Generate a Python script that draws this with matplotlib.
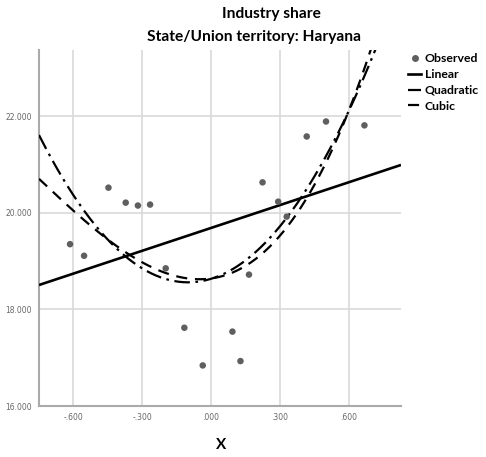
import numpy as np
import matplotlib
matplotlib.use("Agg")
import matplotlib.pyplot as plt
from matplotlib.lines import Line2D

x_obs = [-0.613, -0.552, -0.446, -0.371, -0.318, -0.265, -0.197, -0.116, -0.036,
         0.093, 0.128, 0.165, 0.224, 0.292, 0.329, 0.416, 0.500, 0.667]
y_obs = [19.35, 19.11, 20.52, 20.21, 20.15, 20.17, 18.85, 17.62, 16.84,
         17.54, 16.93, 18.72, 20.63, 20.23, 19.92, 21.58, 21.89, 21.81]

# Fitted model coefficients (highest power first)
linear_coef = [1.579, 19.686]
quadratic_coef = [7.26, 1.452, 18.633]
cubic_coef = [3.0, 6.8, 0.65, 18.64]

x_ticks = [-0.6, -0.3, 0.0, 0.3, 0.6]
x_ticklabels = ["-.600", "-.300", ".000", ".300", ".600"]
y_ticks = [16, 18, 20, 22]
y_ticklabels = ["16.000", "18.000", "20.000", "22.000"]

W, H = 486, 457
fig = plt.figure(figsize=(W / 100, H / 100), dpi=100)
ax = fig.add_axes([39 / W, 1 - 406 / H, (401 - 39) / W, (406 - 50) / H])

xmin, xmax = -0.748, 0.826
ymin, ymax = 16.0, 23.37
xx = np.linspace(xmin, xmax, 400)

quad_ls = (0, (7, 2.5, 1.2, 2.5))
cubic_ls = (0, (5, 3.5))

ax.plot(xx, np.polyval(linear_coef, xx), color="black", lw=1.9, solid_capstyle="butt", zorder=3)
ax.plot(xx, np.polyval(quadratic_coef, xx), color="black", lw=1.6, linestyle=quad_ls, zorder=3)
ax.plot(xx, np.polyval(cubic_coef, xx), color="black", lw=1.6, linestyle=cubic_ls, zorder=3)
ax.scatter(x_obs, y_obs, s=22, color="#5f5f5f", edgecolors="none", zorder=4)

ax.set_xlim(xmin, xmax)
ax.set_ylim(ymin, ymax)
ax.set_xticks(x_ticks)
ax.set_xticklabels(x_ticklabels)
ax.set_yticks(y_ticks)
ax.set_yticklabels(y_ticklabels)
ax.tick_params(length=0, labelsize=5.5, colors="#666666", pad=5)
ax.grid(True, color="#d9d9d9", lw=1.2)
ax.set_axisbelow(True)
for s in ["top", "right"]:
    ax.spines[s].set_visible(False)
for s in ["left", "bottom"]:
    ax.spines[s].set_color("#aaaaaa")
    ax.spines[s].set_linewidth(1.5)

font = "Lato"
fig.text(271 / W, 1 - 14 / H, "Industry share", ha="center", va="center",
         fontsize=11.2, fontweight="bold", family=font)
fig.text(254 / W, 1 - 37 / H, "State/Union territory: Haryana", ha="center", va="center",
         fontsize=11.2, fontweight="bold", family=font)
fig.text(221 / W, 1 - 445 / H, "X", ha="center", va="center",
         fontsize=11, fontweight="bold", family=font)

handles = [
    Line2D([], [], marker="o", linestyle="none", color="#5f5f5f", markersize=4),
    Line2D([], [], color="black", lw=1.9),
    Line2D([], [], color="black", lw=1.6, linestyle=quad_ls),
    Line2D([], [], color="black", lw=1.6, linestyle=cubic_ls),
]
labels = ["Observed", "Linear", "Quadratic", "Cubic"]
fig.legend(handles, labels, loc="upper left", bbox_to_anchor=(408 / W, 1 - 53 / H),
           frameon=False, handlelength=1.1, handletextpad=0.25, labelspacing=0.4,
           borderpad=0, borderaxespad=0,
           prop={"family": font, "weight": "bold", "size": 8.8})

fig.savefig("out.png", dpi=100)
